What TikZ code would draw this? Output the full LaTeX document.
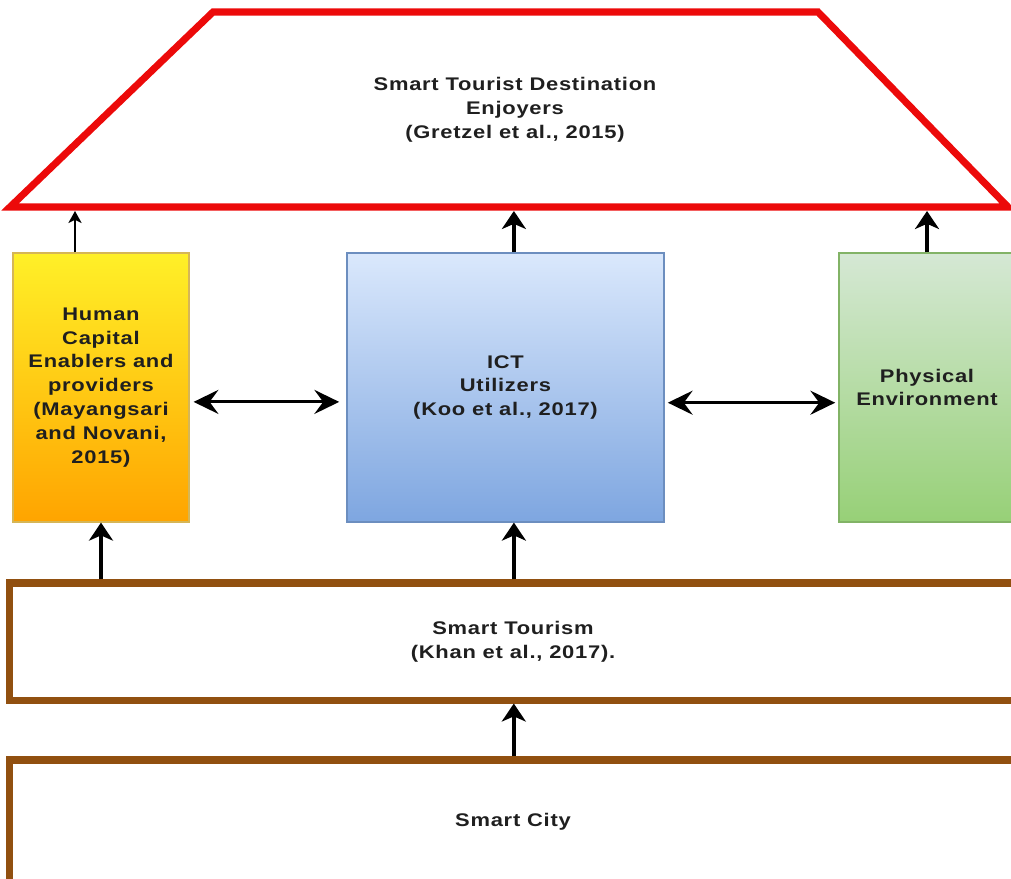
\documentclass[tikz,border=0pt]{standalone}
\usepackage{fontspec}
\newfontfamily\lblfont[FakeStretch=1.2,LetterSpace=4]{Liberation Sans}
\definecolor{destred}{RGB}{236, 10, 10}
\definecolor{tourbrown}{RGB}{145, 80, 16}
\definecolor{hcaptop}{RGB}{255, 240, 40}
\definecolor{hcapbot}{RGB}{255, 164, 0}
\definecolor{hcapline}{RGB}{214, 182, 86}
\definecolor{icttop}{RGB}{218, 232, 252}
\definecolor{ictbot}{RGB}{126, 166, 224}
\definecolor{ictline}{RGB}{108, 142, 191}
\definecolor{envtop}{RGB}{213, 232, 212}
\definecolor{envbot}{RGB}{151, 208, 119}
\definecolor{envline}{RGB}{130, 179, 102}
\usetikzlibrary{arrows.meta, positioning, calc}
\tikzset{
  lbl/.style={font=\lblfont\bfseries\fontsize{13}{17}\selectfont, text=black!88, align=center},
  pillar/.style={rectangle, draw=#1line, top color=#1top, bottom color=#1bot, line width=0.8pt, minimum width=4.4cm, minimum height=6.725cm, lbl},
  layer/.style={rectangle, draw=tourbrown, fill=white, line width=5pt, minimum width=25.15cm, lbl},
  uparrow/.style={line width=2.8pt, -{Stealth[length=0.45cm, width=0.6cm, inset=0.13cm]}},
  thinarrow/.style={line width=1pt, -{Stealth[length=0.3cm, width=0.33cm, inset=0.08cm]}},
  twoway/.style={line width=2.1pt, {Stealth[length=0.62cm, width=0.6cm, inset=0.22cm]}-{Stealth[length=0.62cm, width=0.6cm, inset=0.22cm]}},
}
\begin{document}
\begin{tikzpicture}[x=0.025cm, y=-0.025cm]
\useasboundingbox (0,0) rectangle (1011,879);
\clip (0,0) rectangle (1011,879);

\draw[destred, line width=5pt, line join=miter] (10,207) -- (213,12) -- (818,12) -- (1008,207) -- cycle;
\node[lbl] (dest) at (515,110) {Smart Tourist Destination\\Enjoyers\\(Gretzel et al., 2015)};
\coordinate (destbase) at (0,211);

\node[pillar=hcap] (hcap) at (101,387.5) {Human\\Capital\\Enablers and\\providers\\(Mayangsari\\and Novani,\\2015)};
\node[pillar=ict, minimum width=7.925cm] (ict) at (505.5,387.5) {ICT\\Utilizers\\(Koo et al., 2017)};
\node[pillar=env] (env) at (927,387.5) {Physical\\Environment};

\node[layer, minimum height=2.925cm] (tour) at (513,641.5) {Smart Tourism\\(Khan et al., 2017).};
\node[layer, minimum height=3.1cm] (city) at (513,822) {Smart City};

\draw[thinarrow] ([xshift=-0.65cm]hcap.north) -- ([xshift=-0.65cm]hcap.north |- destbase);
\draw[uparrow] ([xshift=0.21cm]ict.north) -- ([xshift=0.21cm]ict.north |- destbase);
\draw[uparrow] (env.north) -- (env.north |- destbase);

\draw[twoway, shorten <=0.1cm, shorten >=0.18cm] ([yshift=-0.36cm]hcap.east) -- ([yshift=-0.36cm]ict.west);
\draw[twoway, shorten <=0.08cm, shorten >=0.08cm] ([yshift=-0.38cm]ict.east) -- ([yshift=-0.38cm]env.west);

\draw[uparrow] (hcap.south |- tour.north) -- (hcap.south);
\draw[uparrow] ([xshift=0.21cm]ict.south |- tour.north) -- ([xshift=0.21cm]ict.south);
\draw[uparrow] ([xshift=0.02cm]city.north) -- ([xshift=0.02cm]tour.south);
\end{tikzpicture}
\end{document}
